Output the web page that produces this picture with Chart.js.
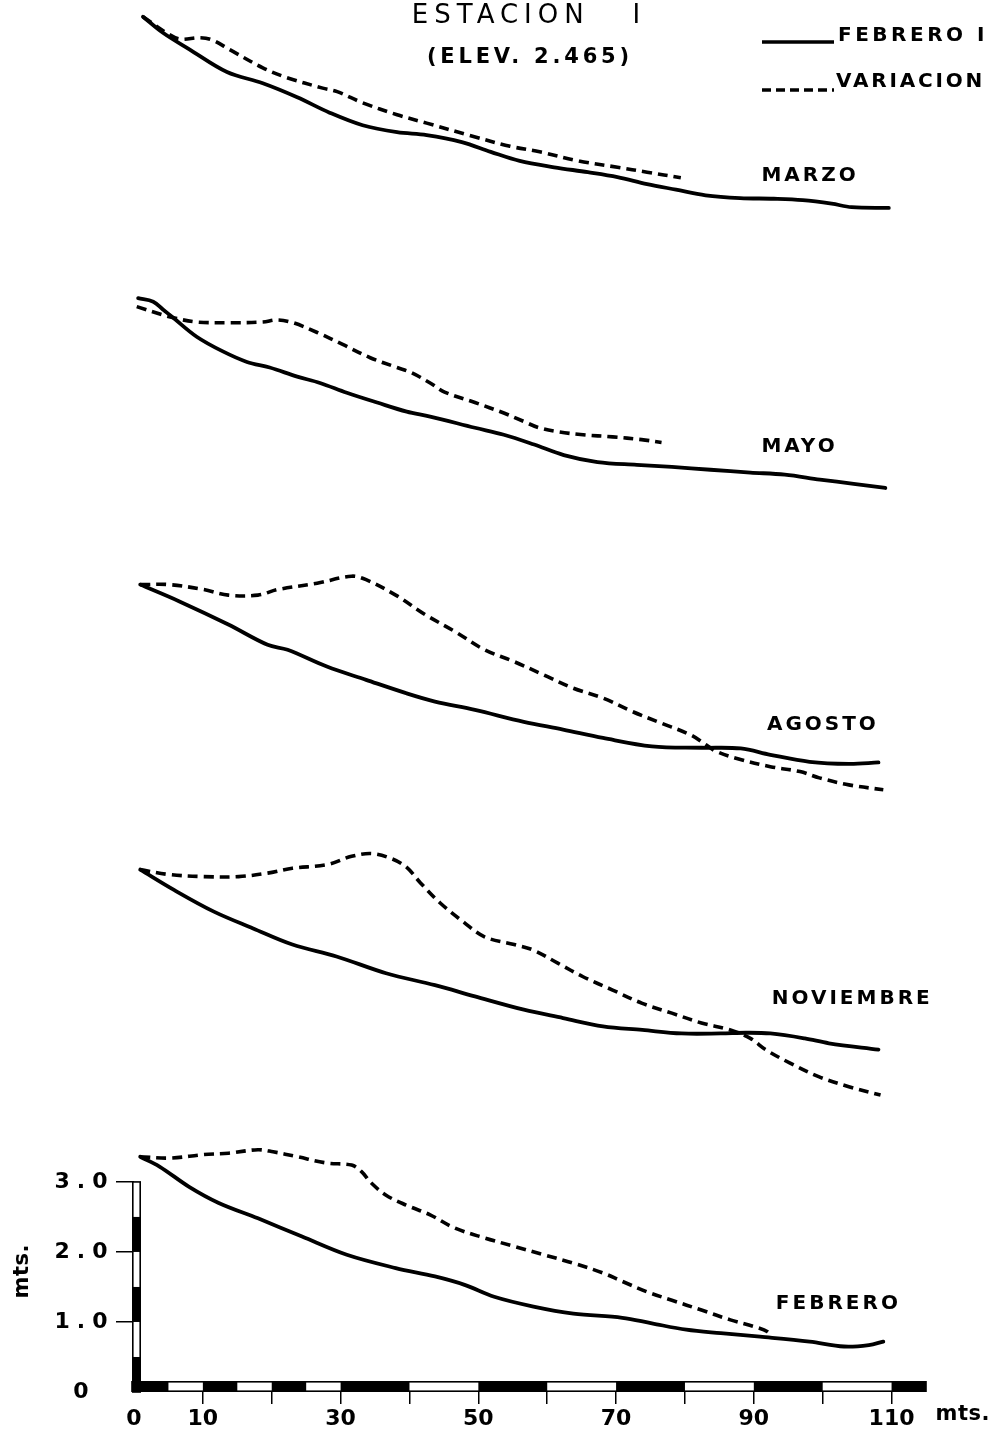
<!DOCTYPE html>
<html lang="es">
<head>
<meta charset="utf-8">
<title>Estación I — perfiles de playa</title>
<script src="https://cdn.jsdelivr.net/npm/chart.js@4.4.1/dist/chart.umd.min.js"></script>
<style>
  html, body { margin: 0; padding: 0; background: #fff; }
  canvas { display: block; }
</style>
</head>
<body>
<canvas id="perfiles" width="995" height="1434"></canvas>
<script>
// Perfiles de playa, Estación I: [distancia (m), altura (m)] por campaña.
// Línea continua: perfil de Febrero I; línea de trazos: perfil de la campaña.
const marzoFebreroI = [[1.3,3.36],[4.2,3.13],[8.1,2.89],[13.5,2.57],[18.7,2.41],[23.7,2.21],[28.4,1.99],[33.2,1.81],[38.2,1.71],[42.5,1.67],[47.6,1.57],[51.8,1.43],[56.0,1.30],[61.0,1.21],[65.9,1.14],[70.2,1.07],[74.5,0.97],[78.7,0.89],[83.0,0.81],[88.0,0.77],[92.9,0.76],[97.1,0.74],[101.3,0.69],[104.2,0.64],[109.6,0.63]];
const marzoVariacion = [[1.3,3.36],[5.2,3.10],[6.7,3.04],[9.6,3.06],[11.3,3.03],[13.9,2.89],[18.7,2.63],[22.2,2.49],[27.4,2.34],[29.5,2.29],[33.2,2.13],[38.2,1.96],[42.5,1.84],[48.9,1.66],[54.6,1.51],[58.9,1.43],[64.6,1.30],[70.2,1.21],[74.5,1.14],[79.4,1.06]];

const mayoFebreroI = [[0.6,3.35],[2.8,3.30],[4.2,3.19],[5.7,3.07],[9.1,2.80],[12.9,2.59],[16.4,2.44],[19.7,2.36],[23.7,2.23],[27.0,2.14],[30.9,2.00],[35.3,1.86],[39.6,1.73],[43.0,1.66],[49.5,1.50],[53.7,1.40],[58.1,1.26],[62.4,1.11],[67.3,1.01],[73.0,0.97],[78.1,0.94],[83.7,0.90],[89.5,0.86],[94.5,0.83],[99.6,0.76],[104.5,0.70],[109.1,0.64]];
const mayoVariacion = [[0.4,3.23],[4.2,3.11],[5.7,3.07],[9.1,3.01],[13.9,3.00],[18.7,3.01],[20.8,3.04],[23.1,3.00],[26.6,2.86],[30.3,2.69],[34.3,2.50],[38.2,2.36],[40.2,2.29],[43.0,2.14],[45.1,2.01],[49.5,1.86],[53.7,1.71],[56.6,1.59],[58.8,1.50],[61.7,1.44],[65.2,1.40],[69.5,1.37],[73.7,1.33],[76.6,1.29]];

const agostoFebreroI = [[0.9,3.36],[6.6,3.12],[13.7,2.79],[19.4,2.50],[22.3,2.43],[28.0,2.19],[33.7,2.00],[39.5,1.81],[43.7,1.69],[49.5,1.57],[56.6,1.40],[62.3,1.29],[68.1,1.17],[75.2,1.05],[82.4,1.03],[88.1,1.02],[92.4,0.93],[98.1,0.83],[103.8,0.80],[108.1,0.82]];
const agostoVariacion = [[0.9,3.36],[5.1,3.36],[10.1,3.29],[13.7,3.21],[18.0,3.21],[20.9,3.29],[26.6,3.38],[31.6,3.48],[33.7,3.43],[38.0,3.21],[42.3,2.93],[46.6,2.69],[50.9,2.43],[55.2,2.26],[59.5,2.07],[63.8,1.88],[68.1,1.74],[72.3,1.55],[76.6,1.38],[80.9,1.21],[83.1,1.07],[84.5,0.98],[87.4,0.88],[92.4,0.76],[96.7,0.69],[99.5,0.60],[103.8,0.50],[108.8,0.43]];

const noviembreFebreroI = [[0.9,3.36],[5.8,3.07],[11.6,2.76],[17.3,2.52],[23.0,2.29],[29.4,2.12],[36.6,1.88],[43.7,1.71],[49.5,1.55],[56.6,1.36],[62.3,1.24],[68.1,1.12],[73.8,1.07],[79.5,1.02],[85.2,1.02],[88.8,1.03],[92.4,1.02],[97.4,0.95],[100.9,0.88],[108.1,0.79]];
const noviembreVariacion = [[0.9,3.36],[5.1,3.29],[10.1,3.26],[15.2,3.26],[19.4,3.31],[23.0,3.38],[28.0,3.43],[31.6,3.55],[34.5,3.59],[37.3,3.52],[39.5,3.40],[41.6,3.17],[44.5,2.88],[48.0,2.60],[50.9,2.40],[55.2,2.29],[58.0,2.21],[61.6,2.02],[65.2,1.83],[69.5,1.64],[73.8,1.45],[78.1,1.31],[82.4,1.17],[86.6,1.07],[89.5,0.95],[91.7,0.79],[95.2,0.60],[99.5,0.40],[103.8,0.26],[108.4,0.14]];

const febreroFebreroI = [[0.9,3.36],[3.7,3.22],[8.0,2.93],[12.3,2.70],[18.0,2.48],[24.4,2.22],[30.9,1.96],[38.0,1.77],[43.7,1.65],[48.0,1.53],[52.3,1.36],[58.0,1.22],[63.8,1.12],[70.9,1.06],[75.2,0.98],[80.2,0.89],[85.2,0.84],[90.9,0.79],[98.1,0.72],[103.1,0.65],[106.7,0.67],[108.8,0.72]];
const febreroVariacion = [[0.9,3.36],[5.1,3.34],[10.1,3.39],[13.7,3.41],[18.0,3.46],[20.2,3.43],[23.7,3.36],[28.0,3.27],[31.6,3.24],[33.0,3.15],[34.5,2.98],[36.6,2.81],[39.5,2.67],[43.0,2.53],[46.6,2.34],[50.9,2.20],[55.2,2.08],[59.5,1.96],[63.8,1.84],[68.1,1.70],[70.9,1.58],[74.5,1.43],[78.1,1.31],[82.4,1.17],[86.6,1.03],[90.2,0.93],[92.0,0.86],[92.4,0.79]];

// Escalas y rótulos de los ejes
const xTickValues = [10, 20, 30, 40, 50, 60, 70, 80, 90, 100, 110];
const xLabelValues = [0, 10, 30, 50, 70, 90, 110];
const xTickLabels = ['0', '10', '30', '50', '70', '90', '110'];
const yTickValues = [1, 2, 3];
const yLabelValues = [0, 1, 2, 3];
const yTickLabels = ['0', '1.0', '2.0', '3.0'];
const xScaleBarEdges = [0, 5, 10, 15, 20, 25, 30, 40, 50, 60, 70, 80, 90, 100, 110, 115];
const yScaleBarEdges = [0, 0.5, 1, 1.5, 2, 2.5, 3];
const panelNames = ['MARZO', 'MAYO', 'AGOSTO', 'NOVIEMBRE', 'FEBRERO'];
const legendLabels = ['FEBRERO I', 'VARIACION'];
const titleText = 'ESTACION   I';
const subtitleText = '(ELEV. 2.465)';
const unitText = 'mts.';

// Paneles de abajo hacia arriba (orden de apilado de los ejes y)
const panels = [
  { axis: 'yFebrero',   name: panelNames[4], base: febreroFebreroI,   seasonal: febreroVariacion,   span: 4.10, labelAt: [93.2, 1.26] },
  { axis: 'yNoviembre', name: panelNames[3], base: noviembreFebreroI, seasonal: noviembreVariacion, span: 4.07, labelAt: [92.6, 1.51] },
  { axis: 'yAgosto',    name: panelNames[2], base: agostoFebreroI,    seasonal: agostoVariacion,    span: 4.10, labelAt: [91.9, 1.36] },
  { axis: 'yMayo',      name: panelNames[1], base: mayoFebreroI,      seasonal: mayoVariacion,      span: 4.01, labelAt: [91.1, 1.23] },
  { axis: 'yMarzo',     name: panelNames[0], base: marzoFebreroI,     seasonal: marzoVariacion,     span: 3.37, labelAt: [91.1, 1.09] }
];

const INK = '#000';
const LETTER_FONT = '"DejaVu Sans", Verdana, sans-serif';
const toPoints = arr => arr.map(([x, y]) => ({ x, y }));

const datasets = [];
panels.forEach(p => {
  datasets.push({
    label: legendLabels[1], data: toPoints(p.seasonal), yAxisID: p.axis, xAxisID: 'x',
    borderColor: INK, borderWidth: 3.6, borderDash: [10, 6], pointRadius: 0,
    tension: 0.35, fill: false, clip: false
  });
  datasets.push({
    label: legendLabels[0], data: toPoints(p.base), yAxisID: p.axis, xAxisID: 'x',
    borderColor: INK, borderWidth: 3.8, borderCapStyle: 'round', borderJoinStyle: 'round',
    pointRadius: 0, tension: 0.35, fill: false, clip: false
  });
});

const scales = {
  x: {
    type: 'linear', position: 'bottom', min: 0, max: 115,
    border: { display: false },
    grid: { drawOnChartArea: false, drawTicks: true, tickLength: 12, color: INK, lineWidth: 1.5 },
    ticks: { display: false },
    afterBuildTicks: s => { s.ticks = xTickValues.map(v => ({ value: v })); },
    afterFit: s => { s.height = 42; }
  }
};
panels.forEach((p, i) => {
  const shown = i === 0;
  scales[p.axis] = {
    type: 'linear', position: 'left', stack: 'perfiles', stackWeight: p.span,
    min: 0, max: p.span, display: shown,
    border: { display: false },
    grid: { drawOnChartArea: false, drawTicks: true, tickLength: 18, color: INK, lineWidth: 1.5 },
    ticks: { display: false },
    afterBuildTicks: s => { s.ticks = yTickValues.map(v => ({ value: v })); },
    afterFit: s => { if (shown) s.width = 134; }
  };
});

// Texto con espaciado entre letras, estilo rotulado técnico
function spacedText(ctx, text, px, py, font, spacing, align) {
  ctx.save();
  ctx.font = font;
  ctx.fillStyle = INK;
  ctx.textBaseline = 'middle';
  ctx.textAlign = 'left';
  let trailing = 0;
  if ('letterSpacing' in ctx) { ctx.letterSpacing = spacing + 'px'; trailing = spacing; }
  const w = ctx.measureText(text).width - trailing;
  let left = px;
  if (align === 'center') left = px - w / 2;
  else if (align === 'right') left = px - w;
  ctx.fillText(text, left, py);
  ctx.restore();
}

const lamina = {
  id: 'laminaPerfiles',
  afterDraw(chart) {
    const ctx = chart.ctx;
    const xs = chart.scales.x;
    const ys = chart.scales.yFebrero;
    const area = chart.chartArea;
    const x0 = xs.getPixelForValue(0);
    const y0 = ys.getPixelForValue(0);

    // Barra de escala vertical (tramos de 0.5 m)
    const vLeft = x0 - 2, vW = 9;
    const vTop = ys.getPixelForValue(yScaleBarEdges[yScaleBarEdges.length - 1]);
    ctx.save();
    ctx.fillStyle = '#fff';
    ctx.fillRect(vLeft, vTop, vW, y0 - vTop);
    ctx.fillStyle = INK;
    for (let i = 0; i < yScaleBarEdges.length - 1; i += 2) {
      const a = ys.getPixelForValue(yScaleBarEdges[i]);
      const b = ys.getPixelForValue(yScaleBarEdges[i + 1]);
      ctx.fillRect(vLeft, b, vW, a - b);
    }
    ctx.strokeStyle = INK;
    ctx.lineWidth = 1.6;
    ctx.strokeRect(vLeft + 0.8, vTop, vW - 1.6, y0 - vTop);

    // Barra de escala horizontal
    const hTop = y0 - 11, hH = 11;
    const hLeft = vLeft, hRight = xs.getPixelForValue(xScaleBarEdges[xScaleBarEdges.length - 1]);
    ctx.fillStyle = '#fff';
    ctx.fillRect(hLeft, hTop, hRight - hLeft, hH);
    ctx.fillStyle = INK;
    for (let i = 0; i < xScaleBarEdges.length - 1; i += 2) {
      const a = i === 0 ? hLeft : xs.getPixelForValue(xScaleBarEdges[i]);
      const b = xs.getPixelForValue(xScaleBarEdges[i + 1]);
      ctx.fillRect(a, hTop, b - a, hH);
    }
    ctx.strokeRect(hLeft, hTop + 0.8, hRight - hLeft, hH - 1.6);
    ctx.restore();

    // Rótulos de los ejes
    const tickFont = 'bold 22px ' + LETTER_FONT;
    xLabelValues.forEach((v, i) => {
      spacedText(ctx, xTickLabels[i], xs.getPixelForValue(v), y0 + 27, tickFont, 0, 'center');
    });
    spacedText(ctx, unitText, xs.getPixelForValue(110) + 44, y0 + 23, 'bold 21px ' + LETTER_FONT, 0.5, 'left');
    yLabelValues.forEach((v, i) => {
      spacedText(ctx, yTickLabels[i], 81, ys.getPixelForValue(v), 'bold 22px ' + LETTER_FONT, 7, 'center');
    });
    ctx.save();
    ctx.translate(23, ys.getPixelForValue(1.72));
    ctx.rotate(-Math.PI / 2);
    spacedText(ctx, unitText, 0, 0, 'bold 21px ' + LETTER_FONT, 0.5, 'center');
    ctx.restore();

    // Nombre de cada campaña
    panels.forEach(p => {
      const s = chart.scales[p.axis];
      spacedText(ctx, p.name, xs.getPixelForValue(p.labelAt[0]), s.getPixelForValue(p.labelAt[1]),
        'bold 20px ' + LETTER_FONT, 3, 'left');
    });

    // Título
    const cx = (area.left + area.right) / 2 - 4;
    spacedText(ctx, titleText, cx, 16, '26px ' + LETTER_FONT, 6, 'center');
    spacedText(ctx, subtitleText, cx + 2, 58, 'bold 21px ' + LETTER_FONT, 3.8, 'center');

    // Leyenda
    ctx.save();
    ctx.strokeStyle = INK;
    ctx.lineWidth = 3.6;
    ctx.beginPath();
    ctx.moveTo(762, 42); ctx.lineTo(834, 42);
    ctx.stroke();
    ctx.setLineDash([9, 5]);
    ctx.beginPath();
    ctx.moveTo(762, 90); ctx.lineTo(834, 90);
    ctx.stroke();
    ctx.restore();
    spacedText(ctx, legendLabels[0], 838, 36, 'bold 20px ' + LETTER_FONT, 3.5, 'left');
    spacedText(ctx, legendLabels[1], 836, 82, 'bold 20px ' + LETTER_FONT, 2.8, 'left');
  }
};

new Chart(document.getElementById('perfiles'), {
  type: 'line',
  data: { datasets },
  options: {
    responsive: false,
    devicePixelRatio: 1,
    animation: false,
    events: [],
    layout: { padding: { top: 16, right: 69, bottom: 0, left: 0 } },
    plugins: { legend: { display: false }, tooltip: { enabled: false }, title: { display: false } },
    scales
  },
  plugins: [lamina]
});
</script>
</body>
</html>
